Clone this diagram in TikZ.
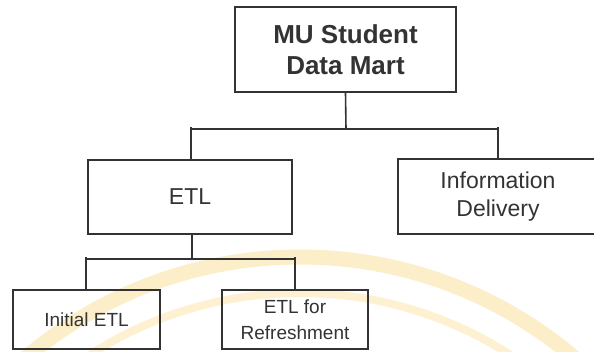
\documentclass[tikz,border=0pt]{standalone}
\usepackage{fontspec}
\setmainfont{Liberation Sans}
\definecolor{ink}{HTML}{333333}
\definecolor{sealtone}{HTML}{FBE3A6}
\tikzset{
    box/.style={draw=ink, line width=1.6pt, text=ink, align=center, inner sep=0pt},
    wire/.style={draw=ink, line width=1.6pt}
}
\begin{document}
\begin{tikzpicture}[x=1pt, y=-1pt]
            \useasboundingbox (0,0) rectangle (594,351);
            % faint seal in the background
            \begin{scope}
                \clip (0,0) rectangle (594,351);
                \draw[draw=sealtone, line width=15pt, opacity=0.6] (300,681) circle (424);
                \draw[draw=sealtone, line width=8pt, opacity=0.5] (300,681) circle (388);
            \end{scope}

            \node[box, minimum width=221pt, minimum height=85pt, font=\bfseries\fontsize{26}{31}\selectfont] (mart) at (345.5,49.5) {MU Student\\Data Mart};
            \node[box, minimum width=204pt, minimum height=74pt, font=\fontsize{23}{28}\selectfont] (etl) at (190,197) {ETL};
            \node[box, minimum width=200pt, minimum height=75pt, font=\fontsize{23}{28}\selectfont] (info) at (498,196.5) {Information\\Delivery};
            \node[box, minimum width=147pt, minimum height=59pt, font=\fontsize{19}{26}\selectfont] (init) at (86.5,319.5) {Initial ETL};
            \node[box, minimum width=146pt, minimum height=59pt, font=\fontsize{19}{26}\selectfont] (refr) at (295,319.5) {ETL for\\Refreshment};

            \coordinate (top) at (346,129);
            \coordinate (topl) at (191,127);
            \coordinate (topr) at (498,127);
            \coordinate (low) at (192,259);
            \coordinate (lowl) at (86,257);
            \coordinate (lowr) at (295,257);

            \draw[wire] (mart.south) to (top);
            \draw[wire] (topl |- top) to (topr |- top);
            \draw[wire] (topl) to (topl |- etl.north);
            \draw[wire] (topr) to (info.north);
            \draw[wire] (etl.south -| low) to (low);
            \draw[wire] (lowl |- low) to (lowr |- low);
            \draw[wire] (lowl) to (lowl |- init.north);
            \draw[wire] (lowr) to (lowr |- refr.north);
        \end{tikzpicture}
\end{document}
